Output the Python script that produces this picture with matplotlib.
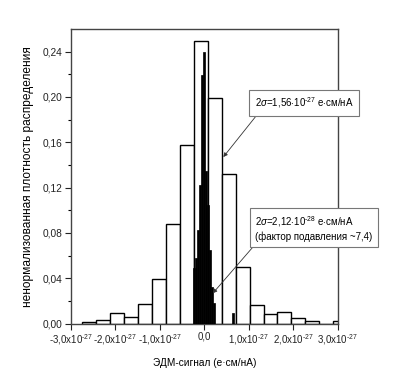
import matplotlib
matplotlib.use("Agg")
import matplotlib.pyplot as plt
import numpy as np

plt.rcParams['font.family'] = ['Liberation Sans', 'DejaVu Sans']
plt.rcParams['mathtext.fontset'] = 'custom'
plt.rcParams['mathtext.rm'] = 'Liberation Sans'
plt.rcParams['mathtext.it'] = 'Liberation Sans:italic'
plt.rcParams['mathtext.bf'] = 'Liberation Sans:bold'

# Wide histogram (units of 1e-27 e·cm/nA)
wide_start = -2.75
wide_width = 0.314
wide_heights = [0.001, 0.0035, 0.0097, 0.0058, 0.0173, 0.039, 0.0875, 0.158,
                0.249, 0.199, 0.132, 0.050, 0.016, 0.0087, 0.0099, 0.0046,
                0.0022, 0.0, 0.002]

# Narrow (suppressed) histogram
narrow_centers = [-0.225, -0.18, -0.135, -0.09, -0.045, 0.0, 0.045, 0.09,
                  0.135, 0.18, 0.225, 0.65]
narrow_heights = [0.049, 0.058, 0.0825, 0.122, 0.219, 0.240, 0.135, 0.1046,
                  0.065, 0.032, 0.018, 0.0095]
narrow_width = 0.045

xticks = [-3, -2, -1, 0, 1, 2, 3]
xticklabels = [r'-3,0x10$^{\text{-27}}$', r'-2,0x10$^{\text{-27}}$', r'-1,0x10$^{\text{-27}}$', '0,0',
               r'1,0x10$^{\text{-27}}$', r'2,0x10$^{\text{-27}}$', r'3,0x10$^{\text{-27}}$']
yticks = [0.0, 0.04, 0.08, 0.12, 0.16, 0.20, 0.24]
yticklabels = ['0,00', '0,04', '0,08', '0,12', '0,16', '0,20', '0,24']

fig = plt.figure(figsize=(4.0, 3.82), dpi=100)
ax = fig.add_axes([0.1775, 0.153, 0.6667, 0.771])

edges = wide_start + wide_width * np.arange(len(wide_heights))
ax.bar(edges, wide_heights, width=wide_width, align='edge',
       facecolor='white', edgecolor='black', linewidth=1.0, zorder=2)
ax.bar(narrow_centers, narrow_heights, width=narrow_width, align='center',
       facecolor='black', edgecolor='black', linewidth=0.5, zorder=3)

ax.set_xlim(-3, 3)
ax.set_ylim(0, 0.26)
ax.set_xticks(xticks)
ax.set_xticklabels(xticklabels, fontsize=7.0)
ax.set_yticks(yticks)
ax.set_yticklabels(yticklabels, fontsize=7.3)
ax.set_yticks(np.arange(0.02, 0.26, 0.04), minor=True)
ax.tick_params(direction='out', length=4, width=0.8, colors='#222222', pad=2)
ax.tick_params(which='minor', direction='out', length=2.5, width=0.8)
for s in ax.spines.values():
    s.set_color('#444444')
    s.set_linewidth(1.0)

ax.set_xlabel('ЭДМ-сигнал (e·см/нА)', fontsize=7.3, labelpad=8)
ax.set_ylabel('ненормализованная плотность распределения', fontsize=8.6, labelpad=6)

box = dict(boxstyle='square,pad=0.55', facecolor='white', edgecolor='#777777', linewidth=0.8)
ax.annotate(r'2$\sigma$=1,56$\cdot$10$^{\text{-27}}$ e$\cdot$см/нА',
            xy=(0.427, 0.147), xycoords='data',
            xytext=(304, 279), textcoords='figure pixels',
            ha='center', va='center', fontsize=7.0, bbox=box,
            annotation_clip=False, zorder=5,
            arrowprops=dict(arrowstyle='-|>', color='#333333', lw=0.6,
                            mutation_scale=6, relpos=(0.06, 0.0),
                            shrinkA=0, shrinkB=0))
ax.annotate('2$\\sigma$=2,12$\\cdot$10$^{\\text{-28}}$ e$\\cdot$см/нА\n(фактор подавления ~7,4)',
            xy=(0.19, 0.0267), xycoords='data',
            xytext=(314, 154), textcoords='figure pixels',
            ha='center', va='center', fontsize=7.0, bbox=box,
            multialignment='left',
            annotation_clip=False, zorder=5,
            arrowprops=dict(arrowstyle='-|>', color='#333333', lw=0.6,
                            mutation_scale=6, relpos=(0.02, 0.0),
                            shrinkA=0, shrinkB=0))

fig.savefig('out.png', dpi=100)
